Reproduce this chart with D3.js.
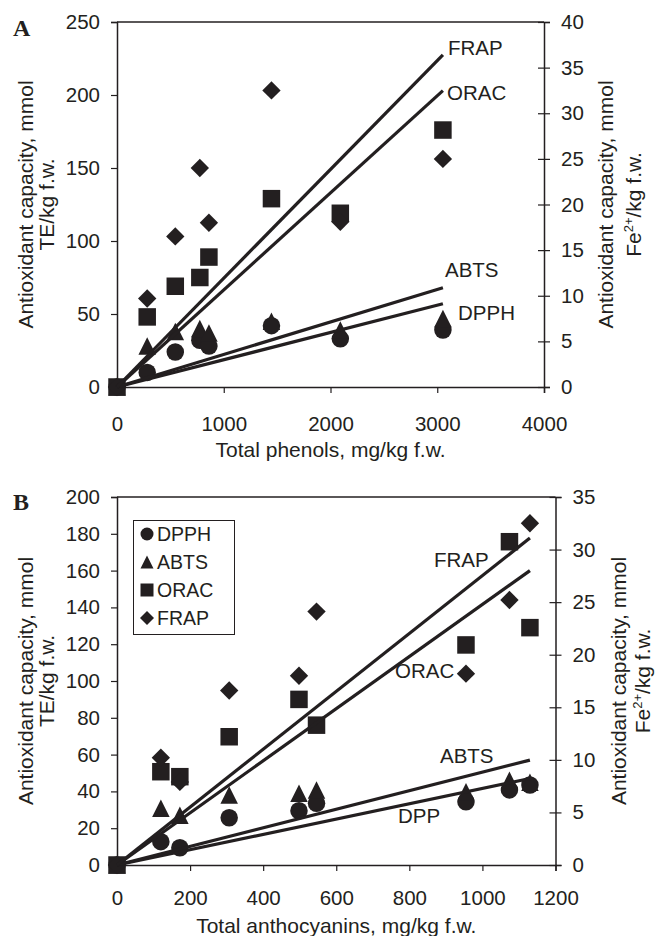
<!DOCTYPE html>
<html>
<head>
<meta charset="utf-8">
<script src="https://cdn.jsdelivr.net/npm/d3@7"></script>
<style>
body { margin: 0; background: #fff; }
svg text { font-family: "Liberation Sans", Arial, sans-serif; fill: #231f20; }
</style>
</head>
<body>
<svg id="chart" width="656" height="936"></svg>
<script>
const seriesNames = ["DPPH", "ABTS", "ORAC", "FRAP"];

// panel A: total phenols (FRAP read against the Fe2+ axis)
const phenolsX    = [0, 283, 546, 776, 861, 1447, 2092, 3053];
const phenolsDPPH = [0, 10, 24, 32, 28, 42, 33, 39];
const phenolsABTS = [0, 28, 38, 40, 37, 45, 39, 47];
const phenolsORAC = [0, 48, 69, 75, 89, 129, 119, 176];
const phenolsFRAP = [0, 9.7, 16.5, 24, 18, 32.5, 18.1, 25];
const phenolsTrendEnd = [57, 68, 203, 36.4];   // trend value at last x
const phenolsLineLabels = ["DPPH", "ABTS", "ORAC", "FRAP"];
const phenolsTicksX = [0, 1000, 2000, 3000, 4000];
const phenolsTicksL = [0, 50, 100, 150, 200, 250];
const phenolsTicksR = [0, 5, 10, 15, 20, 25, 30, 35, 40];

// panel B: total anthocyanins
const anthoX    = [0, 120, 172, 307, 498, 546, 955, 1074, 1130];
const anthoDPPH = [0, 12.7, 9.4, 25.7, 29.5, 33.5, 34.4, 40.8, 43.5];
const anthoABTS = [0, 30.8, 27, 38, 39, 40.8, 39.8, 46, 45];
const anthoORAC = [0, 50.7, 48, 69.7, 90, 76, 119.6, 175.7, 129];
const anthoFRAP = [0, 10.2, 7.9, 16.6, 18, 24.1, 18.2, 25.2, 32.5];
const anthoTrendEnd = [47, 57, 160, 31.1];
const anthoLineLabels = ["DPP", "ABTS", "ORAC", "FRAP"];
const anthoTicksX = [0, 200, 400, 600, 800, 1000, 1200];
const anthoTicksL = [0, 20, 40, 60, 80, 100, 120, 140, 160, 180, 200];
const anthoTicksR = [0, 5, 10, 15, 20, 25, 30, 35];

const ink = "#231f20";
const svg = d3.select("#chart");

function markerPath(type, s) {
    const h = s / 2;
    if (type === "DPPH") return d3.symbol(d3.symbolCircle, Math.PI * h * h)();
    if (type === "ABTS") return `M0,${-h}L${h},${h}L${-h},${h}Z`;
    if (type === "ORAC") return `M${-h},${-h}H${h}V${h}H${-h}Z`;
    const d = h * 1.08;
    return `M0,${-d}L${d},0L0,${d}L${-d},0Z`;
}

function drawPanel(p) {
    const g = svg.append("g");
    const x = d3.scaleLinear().domain(p.xDomain).range([p.left, p.right]);
    const yL = d3.scaleLinear().domain(p.yLDomain).range([p.bottom, p.top]);
    const yR = d3.scaleLinear().domain(p.yRDomain).range([p.bottom, p.top]);

    // top frame line
    g.append("line")
        .attr("x1", p.left).attr("x2", p.right)
        .attr("y1", p.top).attr("y2", p.top)
        .attr("stroke", ink).attr("stroke-width", 1.5);

    const xAxis = g.append("g")
        .attr("transform", `translate(0,${p.bottom})`)
        .call(d3.axisBottom(x).tickValues(p.ticksX).tickSize(6).tickPadding(p.xPad).tickFormat(d3.format("d")));
    const lAxis = g.append("g")
        .attr("transform", `translate(${p.left},0)`)
        .call(d3.axisLeft(yL).tickValues(p.ticksL).tickSize(6).tickPadding(11).tickFormat(d3.format("d")));
    const rAxis = g.append("g")
        .attr("transform", `translate(${p.right},0)`)
        .call(d3.axisRight(yR).tickValues(p.ticksR).tickSize(6).tickPadding(11).tickFormat(d3.format("d")));
    rAxis.selectAll(".tick line").attr("x1", -6);

    [xAxis, lAxis, rAxis].forEach(a => {
        a.select(".domain").attr("stroke", ink).attr("stroke-width", 1.5);
        a.selectAll(".tick line").attr("stroke", ink).attr("stroke-width", 1.2);
        a.selectAll("text").attr("font-size", 20.5)
            .attr("font-family", "Liberation Sans, Arial, sans-serif").attr("fill", ink);
    });

    // markers
    seriesNames.forEach((name, si) => {
        const yScale = name === "FRAP" ? yR : yL;
        g.selectAll(".m" + name)
            .data(p.values[si].map((v, i) => ({ x: p.xs[i], y: v })))
            .join("path")
            .attr("d", markerPath(name, name === "FRAP" ? 17 : 17.5))
            .attr("transform", d => `translate(${x(d.x)},${yScale(d.y)})`)
            .attr("fill", ink);
    });

    // trend lines from the origin to the last x
    const xMax = d3.max(p.xs);
    seriesNames.forEach((name, si) => {
        const yScale = name === "FRAP" ? yR : yL;
        g.append("line")
            .attr("x1", x(0)).attr("y1", yScale(0))
            .attr("x2", x(xMax)).attr("y2", yScale(p.trendEnd[si]))
            .attr("stroke", ink).attr("stroke-width", 3.2);
        g.append("text")
            .attr("x", p.labelPos[si][0]).attr("y", p.labelPos[si][1])
            .attr("font-size", 20.5)
            .text(p.lineLabels[si]);
    });

    // axis titles
    g.append("text")
        .attr("x", (p.left + p.right) / 2).attr("y", p.xTitleY)
        .attr("text-anchor", "middle").attr("font-size", 21)
        .text(p.xTitle);

    const midY = (p.top + p.bottom) / 2;
    const lt = g.append("g").attr("transform", `translate(0,${midY}) rotate(-90)`);
    lt.append("text").attr("x", 0).attr("y", 33).attr("text-anchor", "middle")
        .attr("font-size", 21).text("Antioxidant capacity, mmol");
    lt.append("text").attr("x", 0).attr("y", 54).attr("text-anchor", "middle")
        .attr("font-size", 21).text("TE/kg f.w.");

    const rt = g.append("g").attr("transform", `translate(0,${midY}) rotate(-90)`);
    rt.append("text").attr("x", 0).attr("y", p.rTitleX).attr("text-anchor", "middle")
        .attr("font-size", 21).text("Antioxidant capacity, mmol");
    const fe = rt.append("text").attr("x", 0).attr("y", p.rTitleX + p.rTitleGap).attr("text-anchor", "middle")
        .attr("font-size", 21);
    fe.append("tspan").text("Fe");
    fe.append("tspan").attr("dy", -8).attr("font-size", 13).text("2+");
    fe.append("tspan").attr("dy", 8).text("/kg f.w.");

    // panel letter
    g.append("text")
        .attr("x", 13).attr("y", p.letterY)
        .attr("font-weight", "bold").attr("font-size", 24)
        .style("font-family", "'Liberation Serif', 'Times New Roman', serif")
        .text(p.letter);

    return { x, yL, yR, g };
}

drawPanel({
    letter: "A", letterY: 36,
    left: 117, right: 544, top: 22, bottom: 387,
    xDomain: [0, 4000], yLDomain: [0, 250], yRDomain: [0, 40],
    ticksX: phenolsTicksX, ticksL: phenolsTicksL, ticksR: phenolsTicksR,
    xPad: 23, xTitleY: 457, rTitleX: 613, rTitleGap: 28,
    xs: phenolsX,
    values: [phenolsDPPH, phenolsABTS, phenolsORAC, phenolsFRAP],
    trendEnd: phenolsTrendEnd,
    lineLabels: phenolsLineLabels,
    labelPos: [[458, 320], [445, 277], [447, 100], [448, 55]],
    xTitle: "Total phenols, mg/kg f.w."
});

const panelB = drawPanel({
    letter: "B", letterY: 510,
    left: 117, right: 555.5, top: 497, bottom: 865,
    xDomain: [0, 1200], yLDomain: [0, 200], yRDomain: [0, 35],
    ticksX: anthoTicksX, ticksL: anthoTicksL, ticksR: anthoTicksR,
    xPad: 19, xTitleY: 933, rTitleX: 626, rTitleGap: 24,
    xs: anthoX,
    values: [anthoDPPH, anthoABTS, anthoORAC, anthoFRAP],
    trendEnd: anthoTrendEnd,
    lineLabels: anthoLineLabels,
    labelPos: [[398, 823], [440, 763], [395, 678], [434, 567]],
    xTitle: "Total anthocyanins, mg/kg f.w."
});

// legend in panel B
const legend = panelB.g.append("g");
legend.append("rect")
    .attr("x", 133.5).attr("y", 520.5).attr("width", 101).attr("height", 114)
    .attr("fill", "#fff").attr("stroke", ink).attr("stroke-width", 1);
seriesNames.forEach((name, i) => {
    const cy = 534 + i * 28;
    legend.append("path")
        .attr("d", markerPath(name, 13))
        .attr("transform", `translate(147,${cy})`)
        .attr("fill", ink);
    legend.append("text")
        .attr("x", 157).attr("y", cy + 7)
        .attr("font-size", 19.5)
        .text(name);
});
</script>
</body>
</html>
